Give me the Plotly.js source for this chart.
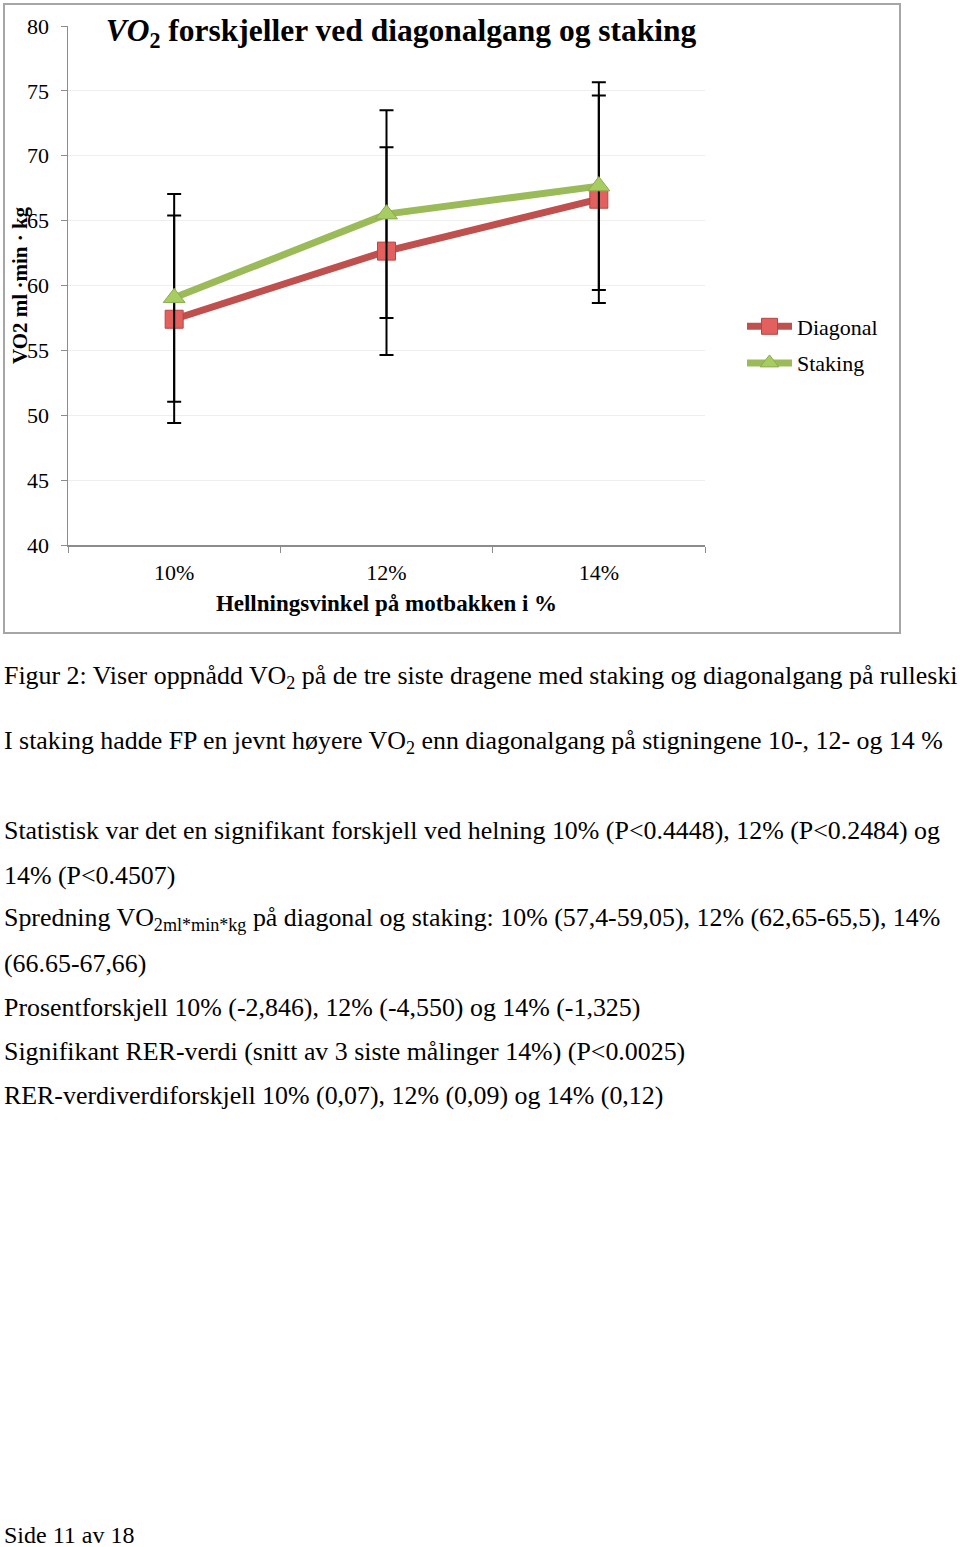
<!DOCTYPE html>
<html>
<head>
<meta charset="utf-8">
<script src="https://cdn.plot.ly/plotly-3.0.1.min.js"></script>
<style>
  html, body { margin: 0; padding: 0; background: #fff; }
  #chart { width: 960px; height: 1547px; }
</style>
</head>
<body>
<div id="chart"></div>
<script>
// ---- data ----
const categories = ["10%", "12%", "14%"];
const diagonal = [57.4, 62.65, 66.65];
const staking = [59.05, 65.5, 67.66];
const diagonalErr = [8, 8, 8];
const stakingErr = [8, 8, 8];
const yTicks = [40, 45, 50, 55, 60, 65, 70, 75, 80];

const chartTitle = "<b><i>VO</i><sub>2</sub> forskjeller ved diagonalgang og staking</b>";
const yTitle = "<b>VO2 ml ·min · kg</b>";
const xTitle = "<b>Hellningsvinkel på motbakken i %</b>";

const bodyLines = [
  "Figur 2: Viser oppnådd VO<sub>2</sub> på de tre siste dragene med staking og diagonalgang på rulleski",
  "I staking hadde FP en jevnt høyere VO<sub>2</sub> enn diagonalgang på stigningene 10-, 12- og 14 %",
  "Statistisk var det en signifikant forskjell ved helning 10% (P&lt;0.4448), 12% (P&lt;0.2484) og",
  "14% (P&lt;0.4507)",
  "Spredning VO<sub>2ml*min*kg</sub> på diagonal og staking: 10% (57,4-59,05), 12% (62,65-65,5), 14%",
  "(66.65-67,66)",
  "Prosentforskjell 10% (-2,846), 12% (-4,550) og 14% (-1,325)",
  "Signifikant RER-verdi (snitt av 3 siste målinger 14%) (P&lt;0.0025)",
  "RER-verdiverdiforskjell 10% (0,07), 12% (0,09) og 14% (0,12)"
];
const footer = "Side 11 av 18";

// ---- geometry helpers (plot area in pixels) ----
const PL = 68, PR = 705, PT = 26, PB = 545, W = 960, H = 1547;
const px2x = p => (p - PL) / (PR - PL);
const px2y = p => (PB - p) / (PB - PT);

const chartFont = "Liberation Serif, Times New Roman, serif";
const bodyFont = "Liberation Serif, Times New Roman, serif";

const traces = [
  {
    x: categories, y: diagonal, name: "Diagonal", type: "scatter", mode: "lines+markers",
    legendgroup: "d",
    line: { color: "#c0504d", width: 7 },
    marker: { symbol: "square", size: 18, color: "#e2605d", line: { color: "#b54744", width: 1 } },
    error_y: { type: "data", array: diagonalErr, visible: true, color: "#000", thickness: 2, width: 7 }
  },
  {
    x: categories, y: staking, name: "Staking", type: "scatter", mode: "lines+markers",
    legendgroup: "s",
    line: { color: "#9bbb59", width: 7 },
    marker: { symbol: "triangle-up", size: 19, color: "#a6cc62", line: { color: "#8cab4f", width: 1 } },
    error_y: { type: "data", array: stakingErr, visible: true, color: "#000", thickness: 2, width: 7 }
  }
];

const bodyY = [677, 742, 830, 875, 919, 963, 1007, 1051, 1095];
const annotations = bodyLines.map((t, i) => ({
  text: t, xref: "paper", yref: "paper", x: px2x(2), y: px2y(bodyY[i]),
  xanchor: "left", yanchor: "middle", showarrow: false,
  font: { family: bodyFont, size: 25.9, color: "#000" }
}));
annotations.push({
  text: footer, xref: "paper", yref: "paper", x: px2x(2), y: px2y(1535),
  xanchor: "left", yanchor: "middle", showarrow: false,
  font: { family: chartFont, size: 24, color: "#000" }
});
annotations.push({
  text: yTitle, xref: "paper", yref: "paper", x: px2x(20), y: px2y(285),
  xanchor: "center", yanchor: "middle", showarrow: false, textangle: -90,
  font: { family: chartFont, size: 21, color: "#000" }
});

const layout = {
  width: W, height: H,
  margin: { l: PL, r: W - PR, t: PT, b: H - PB, pad: 0 },
  paper_bgcolor: "#fff", plot_bgcolor: "#fff",
  showlegend: true,
  title: {
    text: chartTitle, xref: "paper", x: px2x(401), xanchor: "center",
    yref: "container", y: 1 - 30 / H, yanchor: "middle",
    font: { family: chartFont, size: 31.5, color: "#000" }
  },
  xaxis: {
    type: "category", range: [-0.5, 2.5],
    showline: true, linecolor: "#8c8c8c", linewidth: 1.5,
    ticks: "outside", tickson: "boundaries", ticklen: 6, tickcolor: "#8c8c8c",
    ticklabelstandoff: 7,
    showgrid: false, zeroline: false,
    tickfont: { family: chartFont, size: 22, color: "#000" },
    title: { text: xTitle, standoff: 11, font: { family: chartFont, size: 23, color: "#000" } }
  },
  yaxis: {
    range: [40, 80], tickvals: yTicks,
    showline: true, linecolor: "#8c8c8c", linewidth: 1.5,
    ticks: "outside", ticklen: 6, tickcolor: "#8c8c8c",
    ticklabelstandoff: 7,
    showgrid: true, gridcolor: "#eeeeee", gridwidth: 1, zeroline: false,
    tickfont: { family: chartFont, size: 22, color: "#000" }
  },
  legend: {
    x: px2x(742), y: px2y(345), xanchor: "left", yanchor: "middle",
    font: { family: chartFont, size: 22, color: "#000" },
    bgcolor: "rgba(0,0,0,0)", itemwidth: 45,
    traceorder: "grouped", tracegroupgap: 5
  },
  shapes: [{
    type: "rect", xref: "paper", yref: "paper",
    x0: px2x(4), x1: px2x(900), y0: px2y(633), y1: px2y(4),
    line: { color: "#a6a6a6", width: 2 }, fillcolor: "rgba(0,0,0,0)", layer: "below"
  }],
  annotations: annotations
};

Plotly.newPlot("chart", traces, layout, { displayModeBar: false, staticPlot: true });
</script>
</body>
</html>
